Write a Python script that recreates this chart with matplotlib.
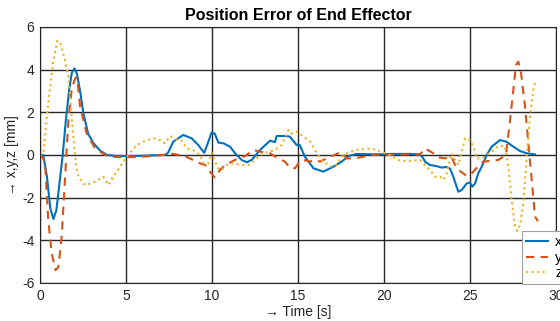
import matplotlib
matplotlib.use('Agg')
from matplotlib import pyplot as plt

plt.rcParams['font.family'] = ['Liberation Sans', 'DejaVu Sans']
plt.rcParams['axes.unicode_minus'] = False

# x error (blue, solid)
t_x = [0.0, 0.19, 0.4, 0.6, 0.78, 0.95, 1.15, 1.32, 1.5, 1.7, 1.85, 2.0, 2.15, 2.35, 2.52, 2.8, 3.1, 3.5, 3.9, 4.5,
       5.5, 6.5, 7.0, 7.27, 7.44, 7.75, 8.33, 8.82, 9.2, 9.55, 9.79, 9.98, 10.16, 10.37, 10.66, 11.05, 11.34, 11.72,
       12.02, 12.31, 12.79, 13.37, 13.66, 13.76, 14.24, 14.53, 14.92, 15.1, 15.4, 15.9, 16.47, 17.05, 17.54, 17.93,
       18.4, 19.5, 20.5, 21.5, 22.09, 22.29, 22.38, 22.67, 23.06, 23.35, 23.64, 23.84, 24.03, 24.32, 24.52,
       24.81, 25.0, 25.14, 25.3, 25.48, 25.68, 25.97, 26.26, 26.74, 27.13, 27.52, 27.9, 28.3, 28.78]
x_err = [0.0, 0.0, -1.0, -2.5, -3.0, -2.6, -1.2, 0.0, 1.6, 3.1, 3.85, 4.06, 3.8, 2.9, 1.96, 1.0, 0.56, 0.2, 0.0, -0.05,
         -0.05, -0.02, 0.0, 0.0, 0.1, 0.63, 0.94, 0.78, 0.47, 0.1, 0.63, 1.06, 1.0, 0.58, 0.55, 0.39, 0.08, -0.23,
         -0.34, -0.23, 0.23, 0.67, 0.6, 0.89, 0.89, 0.86, 0.47, 0.47, -0.08, -0.62, -0.78, -0.55, -0.31, -0.05,
         0.05, 0.03, 0.05, 0.05, 0.03, -0.16, -0.31, -0.47, -0.52, -0.59, -0.56, -0.64, -1.02, -1.72, -1.64,
         -1.33, -1.3, -1.48, -1.33, -0.86, -0.55, 0.0, 0.39, 0.7, 0.62, 0.39, 0.19, 0.08, 0.03]

# y error (red, dashed)
t_y = [0.0, 0.29, 0.48, 0.68, 0.9, 1.07, 1.26, 1.45, 1.65, 1.84, 2.0, 2.09, 2.2, 2.33, 2.71, 3.2, 3.9, 4.5, 5.5, 6.5,
       7.75, 8.4, 8.9, 9.3, 9.6, 9.88, 10.17, 10.47, 10.76, 11.34, 11.92, 12.4, 12.79, 13.37, 13.86, 14.24,
       14.53, 14.83, 15.12, 15.41, 15.7, 15.99, 16.28, 16.67, 17.34, 17.6, 17.83, 18.3, 18.99, 19.57, 20.35,
       21.3, 22.1, 22.38, 22.87, 23.16, 23.55, 23.93, 24.13, 24.32, 24.81, 25.1, 25.39, 25.77, 26.26, 26.65,
       27.09, 27.33, 27.52, 27.67, 27.81, 27.97, 28.2, 28.39, 28.59, 28.78, 28.95]
y_err = [0.05, -0.3, -3.05, -4.6, -5.4, -5.25, -3.83, -1.17, 1.64, 3.05, 3.5, 3.64, 3.3, 2.27, 1.02, 0.31, -0.05, -0.1,
         -0.1, -0.05, 0.05, -0.05, -0.23, -0.39, -0.47, -0.78, -1.06, -0.7, -0.47, -0.23, -0.05, 0.23, 0.16, 0.08,
         -0.16, -0.31, -0.6, -0.62, -0.28, -0.25, -0.31, -0.23, -0.31, -0.16, 0.08, 0.08, -0.16, -0.16, -0.05, 0.03,
         0.0, 0.03, 0.03, 0.31, 0.08, -0.11, -0.16, -0.08, -0.47, -0.7, -0.98, -0.86, -0.6, -0.31, -0.27, -0.23,
         0.0, 1.64, 3.05, 4.22, 4.38, 3.83, 2.27, 0.55, -1.17, -2.89, -3.1]

# z error (yellow, dotted)
t_z = [0.0, 0.19, 0.48, 0.78, 1.01, 1.2, 1.45, 1.65, 1.78, 1.94, 2.09, 2.23, 2.62, 3.0, 3.39, 3.68, 3.97, 4.26,
       4.65, 5.04, 5.62, 6.2, 6.59, 6.98, 7.27, 7.56, 7.94, 8.23, 8.53, 8.9, 9.3, 9.5, 9.79, 9.98, 10.17, 10.37,
       10.56, 10.85, 11.24, 11.72, 12.11, 12.4, 12.79, 13.28, 13.66, 14.05, 14.44, 14.63, 14.92, 15.31, 15.7,
       16.09, 16.47, 16.96, 17.25, 17.54, 17.83, 18.31, 18.8, 19.28, 19.77, 20.35, 20.93, 21.51, 22.09, 22.38,
       22.67, 22.97, 23.26, 23.45, 23.64, 23.93, 24.13, 24.32, 24.52, 24.71, 25.0, 25.19, 25.39, 25.68, 25.97,
       26.26, 26.65, 27.03, 27.23, 27.42, 27.62, 27.75, 27.91, 28.1, 28.3, 28.49, 28.68, 28.78]
z_err = [0.0, 0.05, 2.42, 4.45, 5.36, 5.2, 4.45, 3.67, 2.42, 0.86, -0.39, -1.02, -1.41, -1.33, -1.17, -1.02, -1.41, -1.02,
         -0.55, -0.08, 0.47, 0.7, 0.78, 0.7, 0.55, 0.89, 0.73, 0.67, 0.31, 0.23, 0.0, -0.39, -0.39, 0.1, -0.3, -0.63,
         -0.7, -0.47, -0.39, -0.47, -0.47, -0.31, 0.0, 0.16, 0.23, 0.47, 1.17, 1.0, 1.1, 0.86, 0.63,
         0.08, -0.31, -0.55, -0.47, -0.08, 0.08, 0.23, 0.27, 0.31, 0.16, 0.0, -0.27, -0.28, -0.23, -0.47,
         -0.7, -1.02, -1.02, -1.17, -0.86, 0.08, -0.23, -0.47, 0.16, 0.78, 0.7, 0.39, -0.16, -0.16, 0.0,
         0.16, 0.42, 0.42, -0.55, -2.11, -3.36, -3.56, -3.28, -2.27, -0.08, 1.8, 3.05, 3.36]

fig = plt.figure(figsize=(5.6, 3.21), dpi=100)
ax = fig.add_axes([40 / 560, 1 - 283 / 321, 516 / 560, 256 / 321])

ax.plot(t_x, x_err, color='#0072BD', linewidth=1.5, label='x')
ax.plot(t_y, y_err, color='#D95319', linewidth=1.5, linestyle=(0, (4, 3)), label='y')
ax.plot(t_z, z_err, color='#EDB120', linewidth=1.5, linestyle=':', label='z')

ax.set_xlim(0, 30)
ax.set_ylim(-6, 6)
ax.set_xticks(range(0, 31, 5))
ax.set_yticks(range(-6, 7, 2))
ax.grid(True, color='#262626', linewidth=1)
ax.tick_params(labelsize=10, length=0, colors='#262626', pad=4)
for s in ax.spines.values():
    s.set_color('#262626')

ax.set_title('Position Error of End Effector', fontsize=11.5, fontweight='bold', pad=5)
ax.set_xlabel('\u2192 Time [s]', fontsize=10, color='#262626', labelpad=2)
ax.set_ylabel('\u2192 x,y,z [mm]', fontsize=10, color='#262626', labelpad=2)

leg = ax.legend(loc='upper left', bbox_to_anchor=(522 / 560, 1 - 231 / 321), bbox_transform=fig.transFigure,
                fontsize=10, handlelength=1.6, fancybox=False, framealpha=1, edgecolor='#a0a0a0',
                borderpad=0.3, labelspacing=0.1, handletextpad=0.5, borderaxespad=0)
leg.get_frame().set_linewidth(0.8)

fig.savefig('out.png', dpi=100)
